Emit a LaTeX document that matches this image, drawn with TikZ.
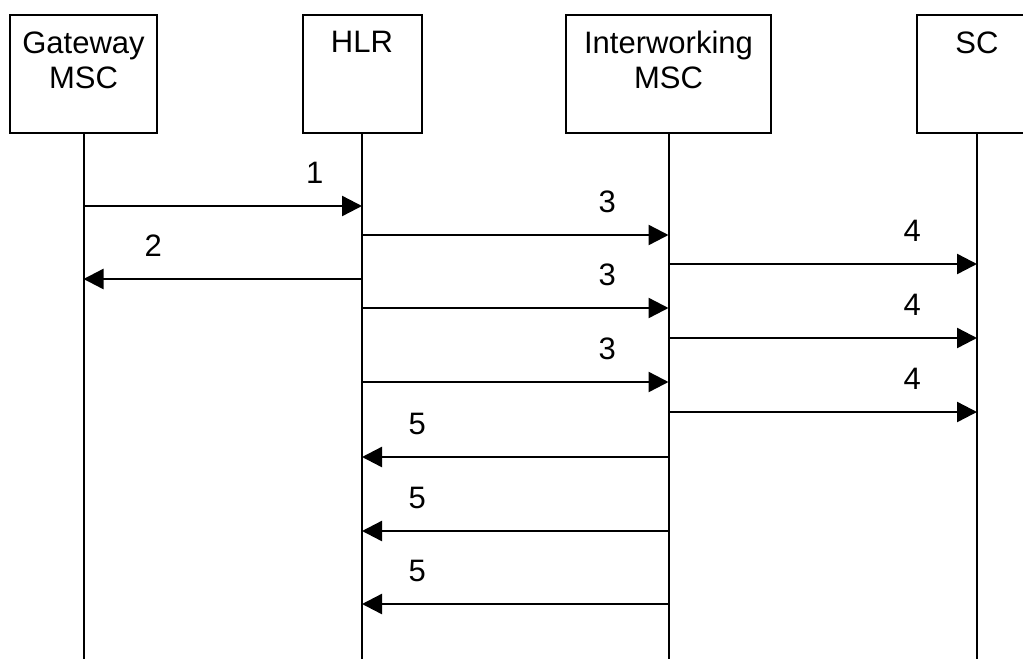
\documentclass[tikz,border=0pt]{standalone}
\usepackage{fontspec}
\setmainfont{Liberation Sans}
\usetikzlibrary{arrows.meta}

\begin{document}
\begin{tikzpicture}[x=0.5pt, y=-0.5pt,
  entity/.style={draw, line width=1pt, minimum height=59pt, inner sep=0pt},
  title/.style={anchor=north, yshift=-8.5pt, align=center, inner sep=0pt,
    font=\fontsize{15.5}{17.5}\selectfont},
  life/.style={line width=1pt},
  msg/.style={line width=1.2pt, -{Triangle[length=10pt, width=10pt]}},
  num/.style={above=10.5pt, inner sep=0pt, font=\fontsize{15.5}{17.5}\selectfont}]
  \useasboundingbox (0,0) rectangle (1023,659);
  \clip (0,0) rectangle (1023,659);

  % Entity boxes
  \node[entity, minimum width=73.5pt] (gw) at (83.5,74) {};
  \node[entity, minimum width=59.5pt] (hlr) at (362,74) {};
  \node[entity, minimum width=102.5pt] (iw) at (668.5,74) {};
  \node[entity, minimum width=60pt] (sc) at (977,74) {};

  % Box titles
  \node[title] (gwtitle) at (gw.north) {Gateway\\MSC};
  \node[title] (hlrtitle) at (hlr.north) {HLR};
  \node[title] (iwtitle) at (iw.north) {Interworking\\MSC};
  \node[title] (sctitle) at (sc.north) {SC};

  % Lifelines
  \coordinate (bottom) at (0,659);
  \draw[life] (gw.south) -- (gw.south |- bottom);
  \draw[life] (hlr.south) -- (hlr.south |- bottom);
  \draw[life] (iw.south) -- (iw.south |- bottom);
  \draw[life] (sc.south) -- (sc.south |- bottom);

  % Messages 1 and 2
  \draw[msg] (gw.south |- 0,206) -- node[num, pos=0.83] {1} (hlr.south |- 0,206);
  \draw[msg] (hlr.south |- 0,279) -- node[num, pos=0.75] {2} (gw.south |- 0,279);

  % HLR to interworking MSC (3)
  \draw[msg] (hlr.south |- 0,235) -- node[num, pos=0.8] {3} (iw.south |- 0,235);
  \draw[msg] (hlr.south |- 0,308) -- node[num, pos=0.8] {3} (iw.south |- 0,308);
  \draw[msg] (hlr.south |- 0,382) -- node[num, pos=0.8] {3} (iw.south |- 0,382);

  % Interworking MSC to SC (4)
  \draw[msg] (iw.south |- 0,264) -- node[num, pos=0.79] {4} (sc.south |- 0,264);
  \draw[msg] (iw.south |- 0,338) -- node[num, pos=0.79] {4} (sc.south |- 0,338);
  \draw[msg] (iw.south |- 0,412) -- node[num, pos=0.79] {4} (sc.south |- 0,412);

  % Replies to HLR (5)
  \draw[msg] (iw.south |- 0,457) -- node[num, pos=0.82] {5} (hlr.south |- 0,457);
  \draw[msg] (iw.south |- 0,531) -- node[num, pos=0.82] {5} (hlr.south |- 0,531);
  \draw[msg] (iw.south |- 0,604) -- node[num, pos=0.82] {5} (hlr.south |- 0,604);
\end{tikzpicture}
\end{document}
